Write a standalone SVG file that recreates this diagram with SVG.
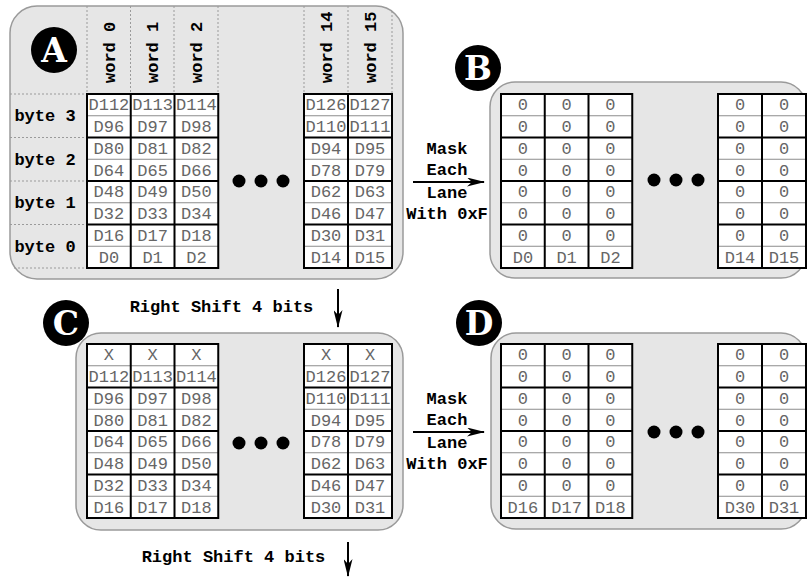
<svg xmlns="http://www.w3.org/2000/svg" width="807" height="577" viewBox="0 0 807 577">
<style>
.panel{fill:#e6e6e6;stroke:#9a9a9a;stroke-width:1.5}
.thin{stroke:#8c8c8c;stroke-width:1;fill:none}
.thick{stroke:#000;stroke-width:2;fill:none}
.dash{stroke:#9a9a9a;stroke-width:1;stroke-dasharray:2,2;fill:none}
.d{font-family:"Liberation Mono","DejaVu Sans Mono",monospace;font-size:17px;fill:#666;text-anchor:middle}
.lbl{font-family:"Liberation Mono","DejaVu Sans Mono",monospace;font-weight:bold;font-size:17px;fill:#000}
.mid{text-anchor:middle}
.badge{fill:#000}
.bl{font-family:"DejaVu Serif","Liberation Serif",serif;font-weight:bold;font-size:33px;fill:#fff;text-anchor:middle}
.dot{fill:#000}
.conn{stroke:#000;stroke-width:2;fill:none}
</style>
<defs>
<marker id="ah" viewBox="0 0 18 9" refX="17" refY="4.5" markerWidth="18" markerHeight="9" markerUnits="userSpaceOnUse" orient="auto">
<path d="M0,0 L18,4.5 L0,9 L5,4.5 Z" fill="#000"/>
</marker>
<g id="grid3">
<rect x="0" y="0" width="131.25" height="174" fill="#fff"/>
<path class="thin" d="M0 21.75H131.25M0 65.25H131.25M0 108.75H131.25M0 152.25H131.25"/>
<path class="thick" d="M0 43.5H131.25M0 87H131.25M0 130.5H131.25M43.75 0V174M87.5 0V174"/>
<rect class="thick" x="0" y="0" width="131.25" height="174"/>
</g>
<g id="grid2">
<rect x="0" y="0" width="88" height="174" fill="#fff"/>
<path class="thin" d="M0 21.75H88M0 65.25H88M0 108.75H88M0 152.25H88"/>
<path class="thick" d="M0 43.5H88M0 87H88M0 130.5H88M44 0V174"/>
<rect class="thick" x="0" y="0" width="88" height="174"/>
</g>
<g id="zcol" class="d">
<text x="0" y="16.4">0</text><text x="0" y="38.1">0</text><text x="0" y="59.9">0</text><text x="0" y="81.6">0</text><text x="0" y="103.4">0</text><text x="0" y="125.1">0</text><text x="0" y="146.9">0</text>
</g>
</defs>

<g id="panelA">
<rect class="panel" x="10" y="6" width="393" height="273" rx="27"/>
<path class="dash" d="M87 6V94M130.5 6V94M174 6V94M218 6V94M304 6V94M348 6V94M392 11V94M10 94H87M10 137.5H87M10 181H87M10 224.5H87M14 268H87"/>
<g class="lbl">
<text transform="translate(114.5,83) rotate(-90)">word 0</text>
<text transform="translate(158,83) rotate(-90)">word 1</text>
<text transform="translate(201.5,83) rotate(-90)">word 2</text>
<text transform="translate(331.5,83) rotate(-90)">word 14</text>
<text transform="translate(375.5,83) rotate(-90)">word 15</text>
<text x="45" y="121" class="mid">byte 3</text>
<text x="45" y="164.5" class="mid">byte 2</text>
<text x="45" y="208" class="mid">byte 1</text>
<text x="45" y="251.5" class="mid">byte 0</text>
</g>
<g transform="translate(87,94)">
<use href="#grid3"/>
<g class="d">
<text x="21.9" y="16.4">D112</text><text x="65.6" y="16.4">D113</text><text x="109.4" y="16.4">D114</text>
<text x="21.9" y="38.1">D96</text><text x="65.6" y="38.1">D97</text><text x="109.4" y="38.1">D98</text>
<text x="21.9" y="59.9">D80</text><text x="65.6" y="59.9">D81</text><text x="109.4" y="59.9">D82</text>
<text x="21.9" y="81.6">D64</text><text x="65.6" y="81.6">D65</text><text x="109.4" y="81.6">D66</text>
<text x="21.9" y="103.4">D48</text><text x="65.6" y="103.4">D49</text><text x="109.4" y="103.4">D50</text>
<text x="21.9" y="125.1">D32</text><text x="65.6" y="125.1">D33</text><text x="109.4" y="125.1">D34</text>
<text x="21.9" y="146.9">D16</text><text x="65.6" y="146.9">D17</text><text x="109.4" y="146.9">D18</text>
<text x="21.9" y="168.6">D0</text><text x="65.6" y="168.6">D1</text><text x="109.4" y="168.6">D2</text>
</g>
</g>
<g transform="translate(304,94)">
<use href="#grid2"/>
<g class="d">
<text x="22" y="16.4">D126</text><text x="66" y="16.4">D127</text>
<text x="22" y="38.1">D110</text><text x="66" y="38.1">D111</text>
<text x="22" y="59.9">D94</text><text x="66" y="59.9">D95</text>
<text x="22" y="81.6">D78</text><text x="66" y="81.6">D79</text>
<text x="22" y="103.4">D62</text><text x="66" y="103.4">D63</text>
<text x="22" y="125.1">D46</text><text x="66" y="125.1">D47</text>
<text x="22" y="146.9">D30</text><text x="66" y="146.9">D31</text>
<text x="22" y="168.6">D14</text><text x="66" y="168.6">D15</text>
</g>
</g>
<g class="dot"><circle cx="239" cy="181" r="6.5"/><circle cx="261" cy="181" r="6.5"/><circle cx="283" cy="181" r="6.5"/></g>
<g id="badgeA"><circle class="badge" cx="54" cy="50" r="23"/><text class="bl" x="54" y="62">A</text></g>
</g>

<g id="panelB">
<rect class="panel" x="490" y="82" width="316" height="196" rx="25"/>
<g transform="translate(501,94)">
<use href="#grid3"/>
<use href="#zcol" x="21.9"/><use href="#zcol" x="65.6"/><use href="#zcol" x="109.4"/>
<g class="d"><text x="21.9" y="168.6">D0</text><text x="65.6" y="168.6">D1</text><text x="109.4" y="168.6">D2</text></g>
</g>
<g transform="translate(718,94)">
<use href="#grid2"/>
<use href="#zcol" x="22"/><use href="#zcol" x="66"/>
<g class="d"><text x="22" y="168.6">D14</text><text x="66" y="168.6">D15</text></g>
</g>
<g class="dot"><circle cx="654" cy="180" r="6.5"/><circle cx="676" cy="180" r="6.5"/><circle cx="698" cy="180" r="6.5"/></g>
<g id="badgeB"><circle class="badge" cx="478" cy="68" r="23"/><text class="bl" x="478" y="80">B</text></g>
</g>

<g id="panelC">
<rect class="panel" x="76" y="333" width="327" height="197" rx="25"/>
<g transform="translate(87,344)">
<use href="#grid3"/>
<g class="d">
<text x="21.9" y="16.4">X</text><text x="65.6" y="16.4">X</text><text x="109.4" y="16.4">X</text>
<text x="21.9" y="38.1">D112</text><text x="65.6" y="38.1">D113</text><text x="109.4" y="38.1">D114</text>
<text x="21.9" y="59.9">D96</text><text x="65.6" y="59.9">D97</text><text x="109.4" y="59.9">D98</text>
<text x="21.9" y="81.6">D80</text><text x="65.6" y="81.6">D81</text><text x="109.4" y="81.6">D82</text>
<text x="21.9" y="103.4">D64</text><text x="65.6" y="103.4">D65</text><text x="109.4" y="103.4">D66</text>
<text x="21.9" y="125.1">D48</text><text x="65.6" y="125.1">D49</text><text x="109.4" y="125.1">D50</text>
<text x="21.9" y="146.9">D32</text><text x="65.6" y="146.9">D33</text><text x="109.4" y="146.9">D34</text>
<text x="21.9" y="168.6">D16</text><text x="65.6" y="168.6">D17</text><text x="109.4" y="168.6">D18</text>
</g>
</g>
<g transform="translate(304,344)">
<use href="#grid2"/>
<g class="d">
<text x="22" y="16.4">X</text><text x="66" y="16.4">X</text>
<text x="22" y="38.1">D126</text><text x="66" y="38.1">D127</text>
<text x="22" y="59.9">D110</text><text x="66" y="59.9">D111</text>
<text x="22" y="81.6">D94</text><text x="66" y="81.6">D95</text>
<text x="22" y="103.4">D78</text><text x="66" y="103.4">D79</text>
<text x="22" y="125.1">D62</text><text x="66" y="125.1">D63</text>
<text x="22" y="146.9">D46</text><text x="66" y="146.9">D47</text>
<text x="22" y="168.6">D30</text><text x="66" y="168.6">D31</text>
</g>
</g>
<g class="dot"><circle cx="239" cy="443" r="6.5"/><circle cx="261" cy="443" r="6.5"/><circle cx="283" cy="443" r="6.5"/></g>
<g id="badgeC"><circle class="badge" cx="66" cy="323" r="23"/><text class="bl" x="66" y="335">C</text></g>
</g>

<g id="panelD">
<rect class="panel" x="491" y="333" width="315" height="196" rx="25"/>
<g transform="translate(501,344)">
<use href="#grid3"/>
<use href="#zcol" x="21.9"/><use href="#zcol" x="65.6"/><use href="#zcol" x="109.4"/>
<g class="d"><text x="21.9" y="168.6">D16</text><text x="65.6" y="168.6">D17</text><text x="109.4" y="168.6">D18</text></g>
</g>
<g transform="translate(718,344)">
<use href="#grid2"/>
<use href="#zcol" x="22"/><use href="#zcol" x="66"/>
<g class="d"><text x="22" y="168.6">D30</text><text x="66" y="168.6">D31</text></g>
</g>
<g class="dot"><circle cx="654" cy="432" r="6.5"/><circle cx="676" cy="432" r="6.5"/><circle cx="698" cy="432" r="6.5"/></g>
<g id="badgeD"><circle class="badge" cx="479" cy="323" r="23"/><text class="bl" x="479" y="335">D</text></g>
</g>

<g id="connectors">
<line class="conn" x1="413" y1="182" x2="484" y2="182" marker-end="url(#ah)"/>
<line class="conn" x1="413" y1="432" x2="484" y2="432" marker-end="url(#ah)"/>
<line class="conn" x1="338" y1="289" x2="338" y2="327" marker-end="url(#ah)"/>
<line class="conn" x1="348" y1="542" x2="348" y2="576" marker-end="url(#ah)"/>
<g class="lbl mid">
<text x="447" y="154">Mask</text><text x="447" y="175">Each</text><text x="447" y="198">Lane</text><text x="447" y="219">With 0xF</text>
<text x="447" y="404">Mask</text><text x="447" y="425">Each</text><text x="447" y="448">Lane</text><text x="447" y="469">With 0xF</text>
<text x="221.5" y="312">Right Shift 4 bits</text>
<text x="233.5" y="562">Right Shift 4 bits</text>
</g>
</g>
</svg>
